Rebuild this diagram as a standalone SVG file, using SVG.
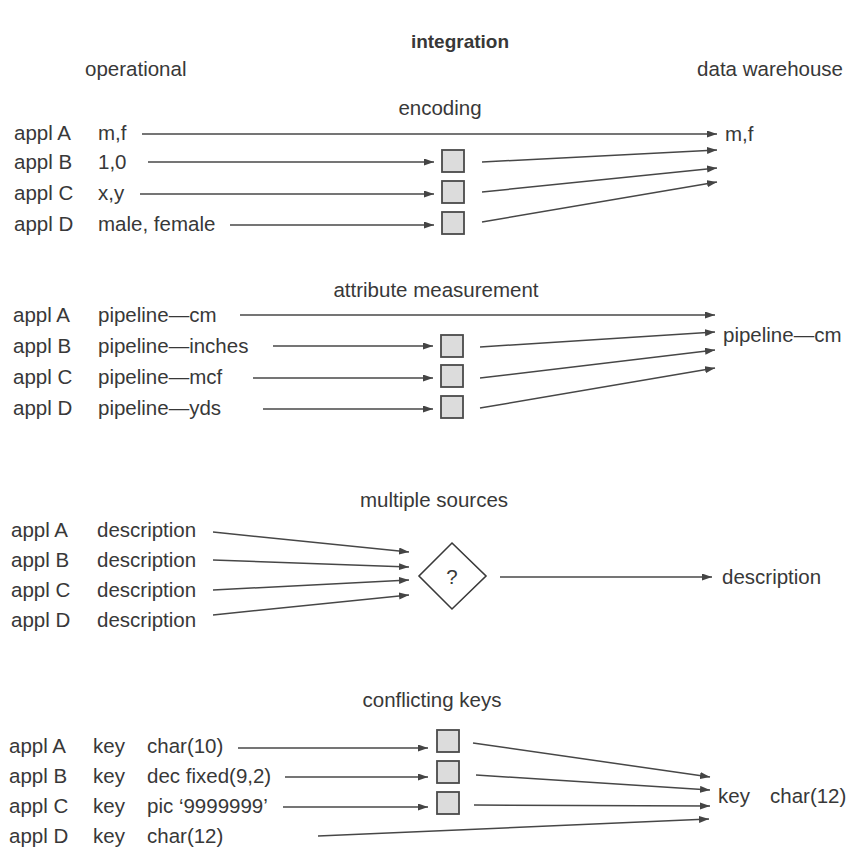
<svg xmlns="http://www.w3.org/2000/svg" width="853" height="848" viewBox="0 0 853 848">
<style>
text{font-family:"Liberation Sans",Arial,Helvetica,sans-serif;font-size:20.5px;fill:#383838}
.t{text-anchor:middle}
.b{font-weight:bold;font-size:19px}
.box{fill:#dcdcdc;stroke:#4a4a4a;stroke-width:1.8}
.dia{fill:#fff;stroke:#3a3a3a;stroke-width:1.6}
.c line{stroke:#474747;stroke-width:1.5;marker-end:url(#ah)}
</style>
<defs>
<marker id="ah" markerUnits="userSpaceOnUse" markerWidth="12" markerHeight="8" refX="10" refY="3.5" orient="auto">
<path d="M0,0 L10,3.5 L0,7 z" fill="#444"/>
</marker>
</defs>
<rect width="853" height="848" fill="#fff"/>

<g id="header">
<text class="t b" x="460" y="48">integration</text>
<text x="85" y="76">operational</text>
<text x="843" y="76" text-anchor="end">data warehouse</text>
</g>

<!-- encoding -->
<g id="encoding">
<text class="t" x="440" y="115">encoding</text>
<g id="enc-A"><text x="14" y="140">appl A</text><text x="98" y="140">m,f</text></g>
<g id="enc-B"><text x="14" y="169">appl B</text><text x="98" y="169">1,0</text></g>
<g id="enc-C"><text x="14" y="200">appl C</text><text x="98" y="200">x,y</text></g>
<g id="enc-D"><text x="14" y="231">appl D</text><text x="98" y="231">male, female</text></g>
<g id="enc-box1"><rect class="box" x="442" y="150" width="22" height="22"/></g>
<g id="enc-box2"><rect class="box" x="442" y="181" width="22" height="22"/></g>
<g id="enc-box3"><rect class="box" x="442" y="212" width="22" height="22"/></g>
<g id="enc-target"><text x="725" y="141">m,f</text></g>
</g>

<!-- attribute measurement -->
<g id="attribute">
<text class="t" x="436" y="297">attribute measurement</text>
<g id="att-A"><text x="13" y="322">appl A</text><text x="98" y="322">pipeline—cm</text></g>
<g id="att-B"><text x="13" y="353">appl B</text><text x="98" y="353">pipeline—inches</text></g>
<g id="att-C"><text x="13" y="384">appl C</text><text x="98" y="384">pipeline—mcf</text></g>
<g id="att-D"><text x="13" y="415">appl D</text><text x="98" y="415">pipeline—yds</text></g>
<g id="att-box1"><rect class="box" x="441" y="335" width="22" height="22"/></g>
<g id="att-box2"><rect class="box" x="441" y="365" width="22" height="22"/></g>
<g id="att-box3"><rect class="box" x="441" y="396" width="22" height="22"/></g>
<g id="att-target"><text x="723" y="342">pipeline—cm</text></g>
</g>

<!-- multiple sources -->
<g id="multiple">
<text class="t" x="434" y="507">multiple sources</text>
<g id="mul-A"><text x="11" y="537">appl A</text><text x="97" y="537">description</text></g>
<g id="mul-B"><text x="11" y="567">appl B</text><text x="97" y="567">description</text></g>
<g id="mul-C"><text x="11" y="597">appl C</text><text x="97" y="597">description</text></g>
<g id="mul-D"><text x="11" y="627">appl D</text><text x="97" y="627">description</text></g>
<g id="mul-diamond"><path class="dia" d="M452,543 L486,576 L452,609 L419,576 z"/><text class="t" x="452" y="584">?</text></g>
<g id="mul-target"><text x="722" y="584">description</text></g>
</g>

<!-- conflicting keys -->
<g id="conflicting">
<text class="t" x="432" y="707">conflicting keys</text>
<g id="key-A"><text x="9" y="753">appl A</text><text x="93" y="753">key</text><text x="147" y="753">char(10)</text></g>
<g id="key-B"><text x="9" y="783">appl B</text><text x="93" y="783">key</text><text x="147" y="783">dec fixed(9,2)</text></g>
<g id="key-C"><text x="9" y="813">appl C</text><text x="93" y="813">key</text><text x="147" y="813">pic ‘9999999’</text></g>
<g id="key-D"><text x="9" y="843">appl D</text><text x="93" y="843">key</text><text x="147" y="843">char(12)</text></g>
<g id="key-box1"><rect class="box" x="437" y="730" width="22" height="22"/></g>
<g id="key-box2"><rect class="box" x="437" y="761" width="22" height="22"/></g>
<g id="key-box3"><rect class="box" x="437" y="792" width="22" height="22"/></g>
<g id="key-target"><text x="718" y="803">key</text><text x="770" y="803">char(12)</text></g>
</g>

<g id="connectors" class="c">
<line x1="142" y1="134" x2="717" y2="134"/>
<line x1="148" y1="162" x2="434" y2="162"/>
<line x1="140" y1="194" x2="434" y2="194"/>
<line x1="230" y1="225" x2="434" y2="225"/>
<line x1="482" y1="162" x2="717" y2="150"/>
<line x1="482" y1="192" x2="717" y2="168"/>
<line x1="482" y1="222" x2="717" y2="182"/>

<line x1="240" y1="315" x2="715" y2="315"/>
<line x1="273" y1="346" x2="433" y2="346"/>
<line x1="253" y1="378" x2="433" y2="378"/>
<line x1="263" y1="409" x2="433" y2="409"/>
<line x1="480" y1="347" x2="715" y2="332"/>
<line x1="480" y1="378" x2="715" y2="350"/>
<line x1="480" y1="408" x2="715" y2="368"/>

<line x1="213" y1="532" x2="409" y2="552"/>
<line x1="213" y1="560" x2="409" y2="567"/>
<line x1="213" y1="590" x2="409" y2="580"/>
<line x1="213" y1="615" x2="409" y2="595"/>
<line x1="500" y1="577" x2="712" y2="577"/>

<line x1="238" y1="748" x2="428" y2="748"/>
<line x1="285" y1="777" x2="428" y2="777"/>
<line x1="283" y1="807" x2="428" y2="807"/>
<line x1="318" y1="836" x2="709" y2="819"/>
<line x1="473" y1="743" x2="710" y2="777"/>
<line x1="476" y1="775" x2="710" y2="790"/>
<line x1="474" y1="805" x2="710" y2="806"/>
</g>
</svg>
